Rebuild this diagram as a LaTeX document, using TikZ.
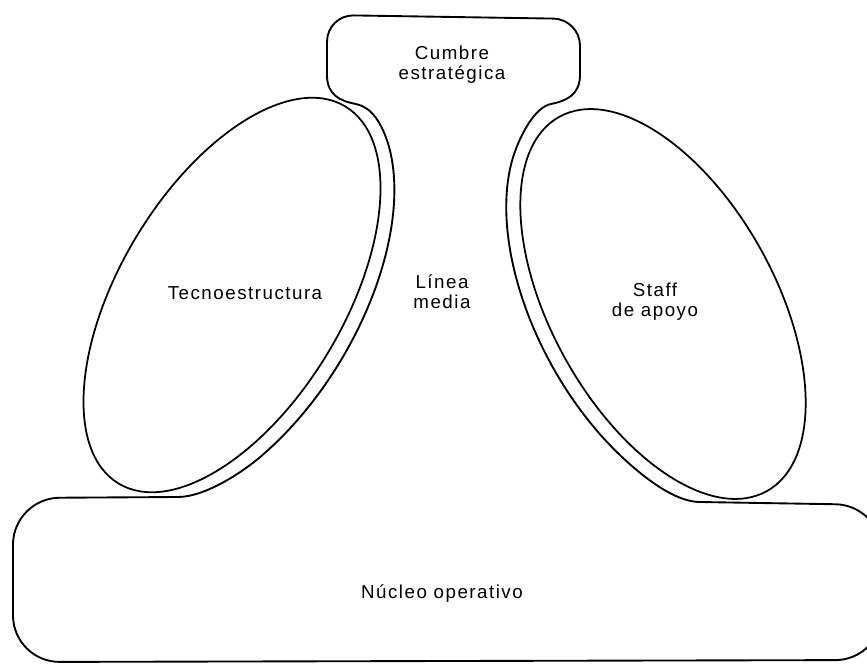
\documentclass[tikz,border=0pt]{standalone}
\usepackage{fontspec}
\setmainfont{Liberation Sans}
\usepackage{tikz}

\begin{document}
\begin{tikzpicture}[x=0.03cm, y=-0.03cm, line width=1.5pt, line join=round, contour/.style={draw, line width=1.6pt}, part text/.style={align=center, font=\fontsize{16}{17}\selectfont\addfontfeature{LetterSpace=8}}]
        \useasboundingbox (0,0) rectangle (867,666);
        \clip (0,0) rectangle (867,666);

        % Cumbre estrategica
        \draw[contour, rounded corners=0.8cm] (327,75) -- (327,15) -- (580,19) -- (580,75);
        \node[part text] (cumbre) at (452,65) {Cumbre\\estratégica};

        % Tecnoestructura and Staff de apoyo
        \draw[rotate around={59:(232,295)}] (232,295) ellipse [x radius=220, y radius=112];
        \node[part text] (tecno) at (245,293) {Tecnoestructura};
        \draw[rotate around={-61:(663,304)}] (663,304) ellipse [x radius=214, y radius=112];
        \node[part text] (staff) at (655,302) {Staff\\de apoyo};

        % Linea media, outer contour on both sides
        \draw[contour] (327,75) .. controls (327,95) and (340,101) .. (356,104)
            .. controls (371,107) and (380.9,122) .. (387.2,141)
            -- plot[domain=25:120, samples=40, smooth, variable=\t] ({232+234*cos(\t)*0.515+127*sin(\t)*0.857}, {295-234*cos(\t)*0.857+127*sin(\t)*0.515})
            .. controls (244,472) and (205,497) .. (178,497);
        \draw[contour] (580,75) .. controls (580,95) and (566,101) .. (551,104)
            .. controls (536,107) and (523,130.5) .. (515.8,149.2)
            -- plot[domain=25:120, samples=40, smooth, variable=\t] ({663-228*cos(\t)*0.485-127*sin(\t)*0.875}, {304-228*cos(\t)*0.875+127*sin(\t)*0.485})
            .. controls (644,477.6) and (675,502) .. (700,502);
        \node[part text] (linea) at (442,292) {Línea\\media};

        % Nucleo operativo
        \draw[contour, rounded corners=1.4cm] (178,497) -- (13,498) -- (13,662) -- (882,660) -- (882,505) -- (700,502);
        \node[part text] (nucleo) at (442,594) {Núcleo operativo};
\end{tikzpicture}
\end{document}
